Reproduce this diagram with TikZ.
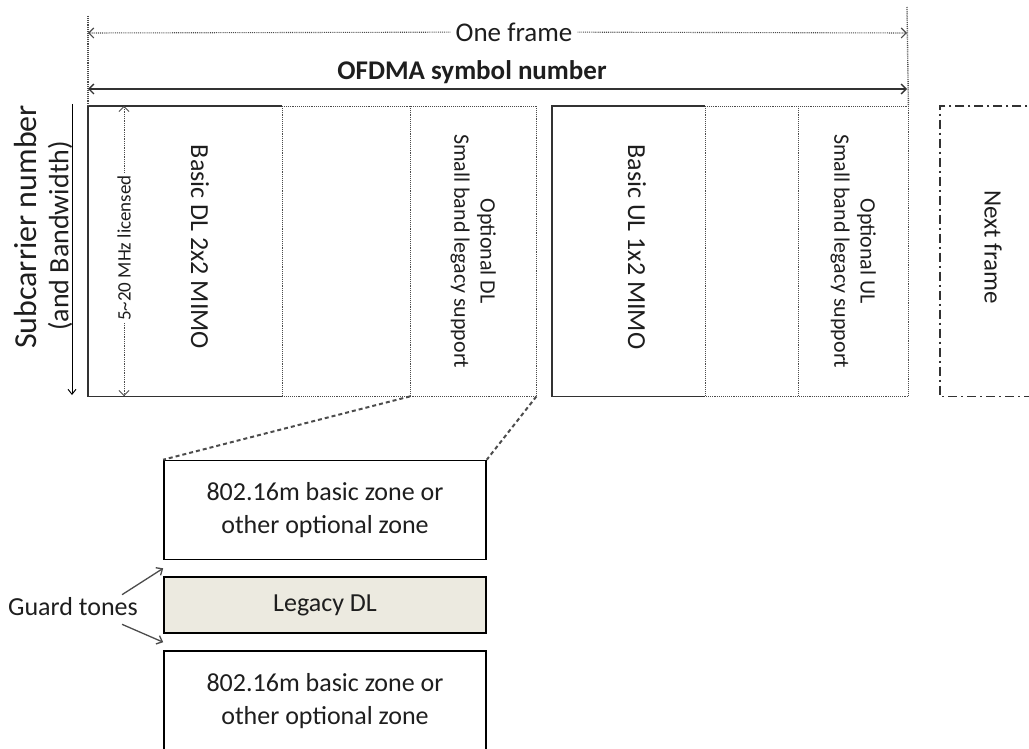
\documentclass[tikz,border=0pt]{standalone}
\usepackage{fontspec}
\setmainfont{Carlito}
\usetikzlibrary{arrows.meta,positioning}
\definecolor{legacyfill}{RGB}{236,234,224}
\definecolor{edgegray}{RGB}{50,50,50}
\definecolor{ink}{RGB}{30,30,30}
\newcommand{\fs}[1]{\fontsize{#1}{1.2\dimexpr #1pt\relax}\selectfont}
\begin{document}
\begin{tikzpicture}[
    x=1pt, y=-1pt, text=ink,
    col/.style={inner sep=0pt, minimum height=290pt, anchor=north west},
    vlab/.style={rotate=-90, align=center, inner sep=0pt},
    solidedge/.style={draw=edgegray, line width=1.6pt},
    dotedge/.style={draw=gray!60!black, line width=0.9pt, densely dotted},
    zone/.style={draw=black, line width=1.6pt, minimum width=322pt, align=center, font=\fontsize{26}{33}\selectfont},
    zoomline/.style={draw=gray!60!black, line width=2pt, dash pattern=on 4pt off 3pt},
    barb/.style={{Straight Barb[length=5pt,width=10pt]}-{Straight Barb[length=5pt,width=10pt]}},
    guardarrow/.style={draw=gray!60!black, line width=1.3pt, -{Straight Barb[length=5pt,width=9pt]}}]
  \useasboundingbox (0,0) rectangle (1029,749);
  % columns of one frame
  \node[col, minimum width=194pt] (dlA) at (88,106) {};
  \node[col, minimum width=128pt] (dlB) at (282,106) {};
  \node[col, minimum width=126pt] (dlC) at (410,106) {};
  \node[col, minimum width=153pt] (ulA) at (552,106) {};
  \node[col, minimum width=93pt]  (ulB) at (705,106) {};
  \node[col, minimum width=110pt] (ulC) at (798,106) {};
  \node[col, minimum width=100pt] (nxt) at (940,106) {};
  \draw[solidedge] (dlB.north west) -- (dlA.north west) -- (dlA.south west) -- (dlB.south west);
  \draw[dotedge] (dlB.north west) -- (dlC.north east) -- (dlC.south east) -- (dlB.south west)
    (dlB.north west) -- (dlB.south west) (dlC.north west) -- (dlC.south west);
  \draw[solidedge] (ulB.north west) -- (ulA.north west) -- (ulA.south west) -- (ulB.south west);
  \draw[dotedge] (ulB.north west) -- (ulC.north east) -- (ulC.south east) -- (ulB.south west)
    (ulB.north west) -- (ulB.south west) (ulC.north west) -- (ulC.south west);
  \draw[draw=edgegray, line width=1.3pt, dash pattern=on 9pt off 4pt on 2pt off 4pt]
    (nxt.north east) -- (nxt.north west) -- (nxt.south west) -- (nxt.south east);
  % labels inside the columns
  \node[vlab, font=\fs{26}] (dlmimo) at (200,247) {Basic DL 2x2 MIMO};
  \node[vlab, font=\fs{22}] (dlopt) at (dlC.center) {Optional DL\\Small band legacy support};
  \node[vlab, font=\fs{26}] (ulmimo) at (637,247) {Basic UL 1x2 MIMO};
  \node[vlab, font=\fs{22}] (ulopt) at (ulC.center) {Optional UL\\Small band legacy support};
  \node[vlab, font=\fs{25}] (nextlab) at (993,247) {Next frame};
  % licensed bandwidth
  \coordinate (bwtop) at (124,106);
  \coordinate (bwbot) at (124,396);
  \draw[barb, draw=gray!60!black, line width=0.8pt, densely dotted] (bwtop) -- (bwbot);
  \node[rotate=90, fill=white, inner sep=2pt, font=\fs{19}] (bwlab) at (124,248) {5\textasciitilde 20 MHz licensed};
  % frame and symbol axes
  \coordinate (frL) at (88,16);
  \coordinate (frR) at (907,7);
  \draw[dotedge, line width=1.4pt] (frL) -- (dlA.north west);
  \draw[dotedge, line width=1.4pt] (frR) -- (ulC.north east);
  \node[fill=white, inner sep=5pt, font=\fs{27}] (oneframe) at (514,32) {One frame};
  \coordinate (ofL) at (88,33);
  \coordinate (ofR) at (907,33);
  \draw[dotedge, line width=1.1pt, -{Straight Barb[length=5pt,width=10pt]}] (oneframe) -- (ofL);
  \draw[dotedge, line width=1.1pt, -{Straight Barb[length=5pt,width=10pt]}] (oneframe) -- (ofR);
  \coordinate (symL) at (88,89);
  \coordinate (symR) at (907,89);
  \draw[barb, line width=1.3pt, draw=edgegray] (symL) -- (symR);
  \node[font=\bfseries\fs{27}, anchor=base] (symlab) at (472,80) {OFDMA symbol number};
  \coordinate (subT) at (72,104);
  \coordinate (subB) at (72,395);
  \draw[line width=0.9pt, -{Straight Barb[length=5pt,width=8pt]}] (subT) -- (subB);
  \node[rotate=90, font=\fs{32}] (sublab) at (26,227) {Subcarrier number};
  \node[rotate=90, font=\fs{28}] (bwsub) at (60,236) {(and Bandwidth)};
  % zoom into the legacy support column
  \node[zone, minimum height=99pt] (zoneTop) at (325,510) {802.16m basic zone or\\other optional zone};
  \node[zone, fill=legacyfill, minimum height=56pt, line width=1.3pt] (legacy) at (325,605) {Legacy DL};
  \node[zone, minimum height=100pt] (zoneBot) at (325,701) {802.16m basic zone or\\other optional zone};
  \draw[zoomline] (dlC.south west) -- (zoneTop.north west);
  \draw[zoomline] (dlC.south east) -- (zoneTop.north east);
  \node[inner sep=0pt, font=\fs{26}] (guard) at (73,607) {Guard tones};
  \draw[guardarrow] ([xshift=-16pt,yshift=3pt]guard.north east) -- ([yshift=-8pt]zoneTop.south west);
  \draw[guardarrow] ([xshift=-16pt,yshift=-8pt]guard.south east) -- ([yshift=8pt]zoneBot.north west);
\end{tikzpicture}
\end{document}
